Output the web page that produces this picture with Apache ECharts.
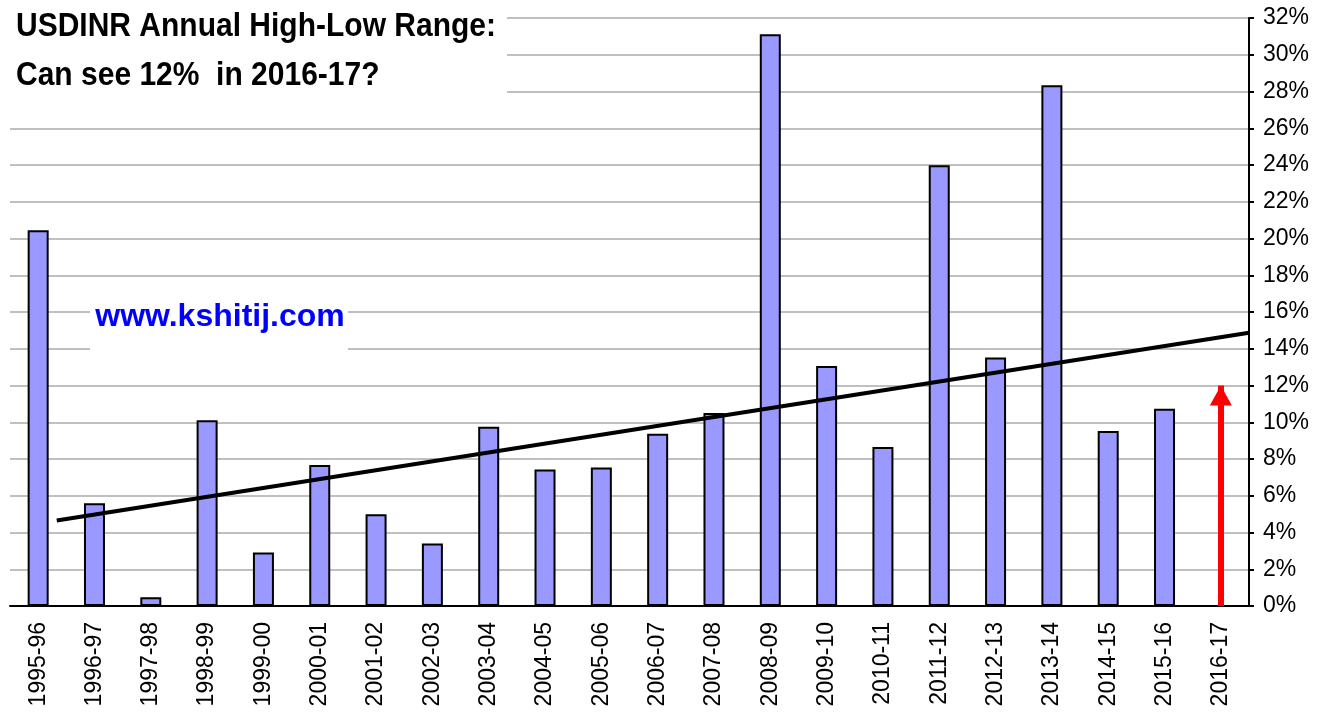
<!DOCTYPE html>
<html>
<head>
<meta charset="utf-8">
<script src="https://cdn.jsdelivr.net/npm/echarts@6/dist/echarts.min.js"></script>
<style>
    html, body { margin: 0; padding: 0; background: #fff; }
    #chart { width: 1318px; height: 714px; }
</style>
</head>
<body>
<div id="chart"></div>
<script>
var years = ['1995-96', '1996-97', '1997-98', '1998-99', '1999-00', '2000-01', '2001-02',
    '2002-03', '2003-04', '2004-05', '2005-06', '2006-07', '2007-08', '2008-09', '2009-10',
    '2010-11', '2011-12', '2012-13', '2013-14', '2014-15', '2015-16', '2016-17'];
// annual high-low range in %, no bar yet for 2016-17
var rangePct = [20.45, 5.59, 0.48, 10.11, 2.91, 7.67, 4.99, 3.40, 9.75, 7.43, 7.54,
    9.37, 10.51, 31.12, 13.06, 8.65, 23.98, 13.52, 28.34, 9.53, 10.73, null];
// trend line, x in category index units
var trendX = [0.33, 21.5];
var trendY = [4.65, 14.87];
var arrowYear = '2016-17';
var arrowTarget = 12;
var yTicks = [0, 32, 2];

var font = "'Liberation Sans', Arial, sans-serif";
var myChart = echarts.init(document.getElementById('chart'));

var option = {
    backgroundColor: '#ffffff',
    animation: false,
    grid: {
        left: 10,
        right: 69,
        top: 18,
        bottom: 108
    },
    xAxis: [
        {
            type: 'category',
            data: years,
            boundaryGap: true,
            axisLine: { onZero: false, lineStyle: { color: '#000', width: 2 } },
            axisTick: { length: 7, lineStyle: { color: '#000', width: 2 } },
            axisLabel: {
                interval: 0,
                rotate: 90,
                margin: 16,
                color: '#000',
                fontSize: 23,
                fontFamily: font
            },
            splitLine: { show: false }
        },
        {
            type: 'value',
            show: false,
            position: 'top',
            min: -0.5,
            max: years.length - 0.5
        }
    ],
    yAxis: {
        type: 'value',
        position: 'right',
        min: yTicks[0],
        max: yTicks[1],
        interval: yTicks[2],
        axisLine: { show: true, onZero: false, lineStyle: { color: '#000', width: 2 } },
        axisTick: { show: true, length: 5, lineStyle: { color: '#000', width: 2 } },
        axisLabel: {
            margin: 14,
            color: '#000',
            fontSize: 23,
            fontFamily: font,
            formatter: '{value}%'
        },
        splitLine: { lineStyle: { color: '#c0c0c0', width: 2 } }
    },
    series: [
        {
            name: 'Range',
            type: 'bar',
            data: rangePct,
            barWidth: 21,
            itemStyle: {
                color: '#9999ff',
                borderColor: '#000',
                borderWidth: 2
            },
            markLine: {
                silent: true,
                symbol: ['none', 'triangle'],
                symbolSize: [22, 20],
                symbolOffset: [0, [0, 10]],
                label: { show: false },
                lineStyle: { color: '#ff0000', width: 6, type: 'solid' },
                data: [
                    [{ coord: [arrowYear, 0] }, { coord: [arrowYear, arrowTarget] }]
                ],
                z: 5
            }
        },
        {
            name: 'Trend',
            type: 'line',
            xAxisIndex: 1,
            data: trendX.map(function (x, i) { return [x, trendY[i]]; }),
            symbol: 'none',
            clip: false,
            lineStyle: { color: '#000', width: 4 },
            z: 4
        }
    ],
    graphic: [
        {
            type: 'rect',
            shape: { x: 0, y: 0, width: 507, height: 112 },
            style: { fill: '#fff' },
            z: 10
        },
        {
            type: 'text',
            x: 16, y: 27, scaleY: 1.13,
            style: {
                text: 'USDINR Annual High-Low Range:',
                font: 'bold 30px ' + font,
                fill: '#000',
                verticalAlign: 'middle'
            },
            z: 11
        },
        {
            type: 'text',
            x: 16, y: 76, scaleY: 1.13,
            style: {
                text: 'Can see 12%  in 2016-17?',
                font: 'bold 30px ' + font,
                fill: '#000',
                verticalAlign: 'middle'
            },
            z: 11
        },
        {
            type: 'rect',
            shape: { x: 90, y: 290, width: 258, height: 62 },
            style: { fill: '#fff' },
            z: 10
        },
        {
            type: 'text',
            x: 220, y: 317,
            style: {
                text: 'www.kshitij.com',
                font: 'bold 32px ' + font,
                fill: '#0000ff',
                align: 'center',
                verticalAlign: 'middle'
            },
            z: 11
        }
    ]
};
myChart.setOption(option);
</script>
</body>
</html>
